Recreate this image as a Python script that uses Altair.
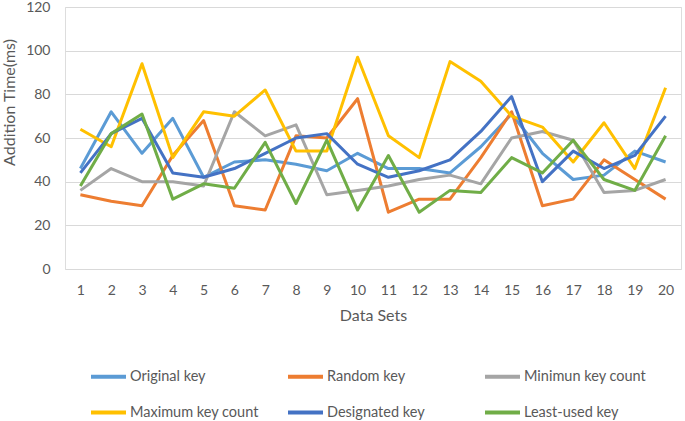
import altair as alt
import pandas as pd

data_sets = list(range(1, 21))
series_names = ["Original key", "Random key", "Minimun key count",
                "Maximum key count", "Designated key", "Least-used key"]
original_key = [46, 72, 53, 69, 42, 49, 50, 48, 45, 53, 46, 46, 44, 56, 71, 53, 41, 43, 54, 49]
random_key = [34, 31, 29, 52, 68, 29, 27, 61, 60, 78, 26, 32, 32, 51, 72, 29, 32, 50, 41, 32]
minimum_key_count = [36, 46, 40, 40, 38, 72, 61, 66, 34, 36, 38, 41, 43, 39, 60, 63, 59, 35, 36, 41]
maximum_key_count = [64, 56, 94, 51, 72, 70, 82, 54, 54, 97, 61, 51, 95, 86, 70, 65, 49, 67, 46, 83]
designated_key = [44, 62, 69, 44, 42, 46, 53, 60, 62, 48, 42, 45, 50, 63, 79, 40, 54, 46, 52, 70]
least_used_key = [38, 62, 71, 32, 39, 37, 58, 30, 59, 27, 52, 26, 36, 35, 51, 44, 59, 41, 36, 61]
colors = ["#5B9BD5", "#ED7D31", "#A5A5A5", "#FFC000", "#4472C4", "#70AD47"]

all_series = [original_key, random_key, minimum_key_count,
              maximum_key_count, designated_key, least_used_key]
rows = []
for name, vals in zip(series_names, all_series):
    for x, v in zip(data_sets, vals):
        rows.append({"set": x, "series": name, "value": v})
df = pd.DataFrame(rows)

FONT = "Lato"
TXT = "#595959"

chart = alt.Chart(df).mark_line(strokeWidth=3, strokeJoin="round").encode(
    x=alt.X("set:O", title="Data Sets",
            scale=alt.Scale(padding=0.5),
            axis=alt.Axis(labelAngle=0, domain=False, ticks=False, grid=False,
                          labelPadding=14, labelFont=FONT, labelFontSize=14,
                          labelColor=TXT, titleFont=FONT, titleFontSize=16,
                          titleFontWeight="normal", titleColor=TXT,
                          titleY=46, titleBaseline="middle")),
    y=alt.Y("value:Q", title="Addition Time(ms)",
            scale=alt.Scale(domain=[0, 120], nice=False),
            axis=alt.Axis(values=[0, 20, 40, 60, 80, 100, 120], domain=False,
                          ticks=False, gridColor="#D9D9D9", gridWidth=1,
                          labelPadding=15, labelFont=FONT, labelFontSize=14,
                          labelColor=TXT, titleFont=FONT, titleFontSize=16,
                          titleFontWeight="normal", titleColor=TXT,
                          titleX=-56, titleY=95, titleAlign="center",
                          titleBaseline="middle")),
    color=alt.Color("series:N", title=None,
                    scale=alt.Scale(domain=series_names, range=colors),
                    legend=alt.Legend(orient="none", legendX=24, legendY=350,
                                      direction="horizontal",
                                      columns=3, gridAlign="all",
                                      columnPadding=21, rowPadding=8,
                                      symbolType="stroke", symbolSize=1225,
                                      symbolStrokeWidth=4, labelOffset=2,
                                      labelFont=FONT, labelFontSize=14.5,
                                      labelColor=TXT, padding=0)),
    order=alt.Order("set:O"),
).properties(
    width=616, height=262,
    autosize=alt.AutoSizeParams(type="none"),
    padding={"left": 65, "top": 7, "right": 4, "bottom": 152},
).configure_view(stroke=None).configure(background="white")

chart.save("out.html", embed_options={"renderer": "svg", "actions": False})
